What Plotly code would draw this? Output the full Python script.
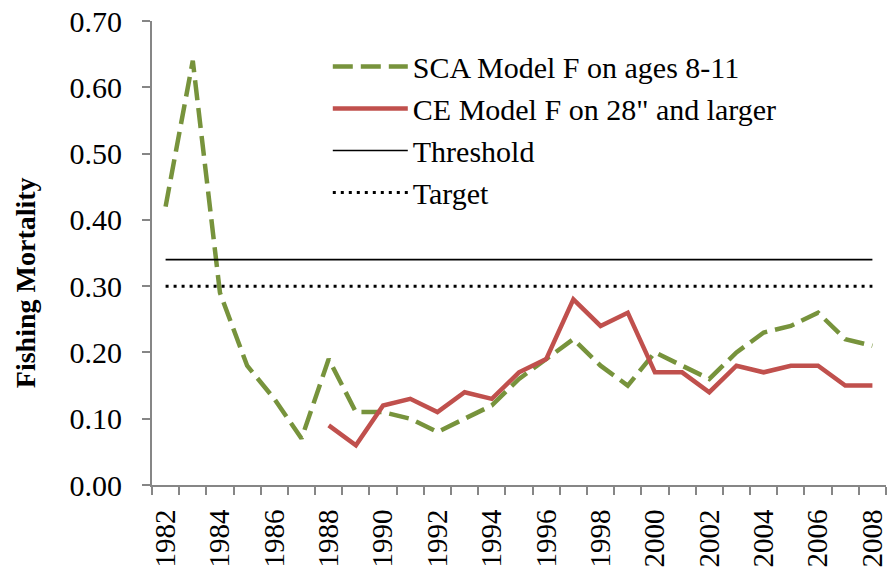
import plotly.graph_objects as go

years = list(range(1982, 2009))
sca_f = [0.42, 0.64, 0.29, 0.18, 0.13, 0.07, 0.19, 0.11, 0.11, 0.10, 0.08, 0.10,
         0.12, 0.16, 0.19, 0.22, 0.18, 0.15, 0.20, 0.18, 0.16, 0.20, 0.23, 0.24,
         0.26, 0.22, 0.21]
ce_years = list(range(1988, 2009))
ce_f = [0.09, 0.06, 0.12, 0.13, 0.11, 0.14, 0.13, 0.17, 0.19, 0.28, 0.24, 0.26,
        0.17, 0.17, 0.14, 0.18, 0.17, 0.18, 0.18, 0.15, 0.15]
threshold = 0.34
target = 0.30
label_years = years[::2]
y_ticks = [0.0, 0.1, 0.2, 0.3, 0.4, 0.5, 0.6, 0.7]

FONT = "Liberation Serif"
AXIS = "#868686"
FS = 30

fig = go.Figure()
fig.add_trace(go.Scatter(x=years, y=sca_f, mode="lines", name="SCA Model F on ages 8-11",
                         line=dict(color="#77933C", width=4.5, dash="20px,8px")))
fig.add_trace(go.Scatter(x=ce_years, y=ce_f, mode="lines", name='CE Model F on 28" and larger',
                         line=dict(color="#C0504D", width=4.5)))
fig.add_trace(go.Scatter(x=years, y=[threshold] * len(years), mode="lines", name="Threshold",
                         line=dict(color="black", width=1.6)))
fig.add_trace(go.Scatter(x=years, y=[target] * len(years), mode="lines", name="Target",
                         line=dict(color="black", width=3, dash="3px,5px")))

fig.update_layout(
    width=887, height=573,
    margin=dict(l=152, r=1, t=21, b=88),
    paper_bgcolor="white", plot_bgcolor="white",
    font=dict(family=FONT, size=FS, color="black"),
    showlegend=True,
    legend=dict(x=0.2395, y=0.958, xanchor="left", yanchor="top",
                bgcolor="rgba(0,0,0,0)", font=dict(size=FS, family=FONT),
                itemwidth=75, tracegroupgap=0),
    xaxis=dict(range=[years[0] - 0.5, years[-1] + 0.5], automargin=False,
               tickmode="array", tickvals=label_years, ticktext=[str(y) for y in label_years],
               tickangle=-90, ticks="outside", ticklen=0, tickcolor=AXIS,
               ticklabeloverflow="allow", ticklabelstandoff=11,
               showline=True, linecolor=AXIS, linewidth=2, showgrid=False, zeroline=False,
               tickfont=dict(size=29, family=FONT),
               minor=dict(tickmode="linear", tick0=years[0] - 0.5, dtick=1,
                          ticks="outside", ticklen=8, tickcolor=AXIS, tickwidth=2, showgrid=False)),
    yaxis=dict(range=[0, 0.7], tickmode="array", tickvals=y_ticks, automargin=False,
               tickformat=".2f", ticks="outside", ticklen=8, tickcolor=AXIS, tickwidth=2,
               ticklabelstandoff=14,
               showline=True, linecolor=AXIS, linewidth=2, showgrid=False, zeroline=False,
               tickfont=dict(size=FS, family=FONT)),
    annotations=[dict(text="<b>Fishing Mortality</b>", textangle=-90,
                      xref="paper", yref="paper", x=-0.173, y=0.435,
                      xanchor="center", yanchor="middle", showarrow=False,
                      font=dict(size=28, family=FONT, color="black"))],
)

fig.write_html("out.html", config={"displayModeBar": False},
               post_script="document.body.style.margin='0';")
